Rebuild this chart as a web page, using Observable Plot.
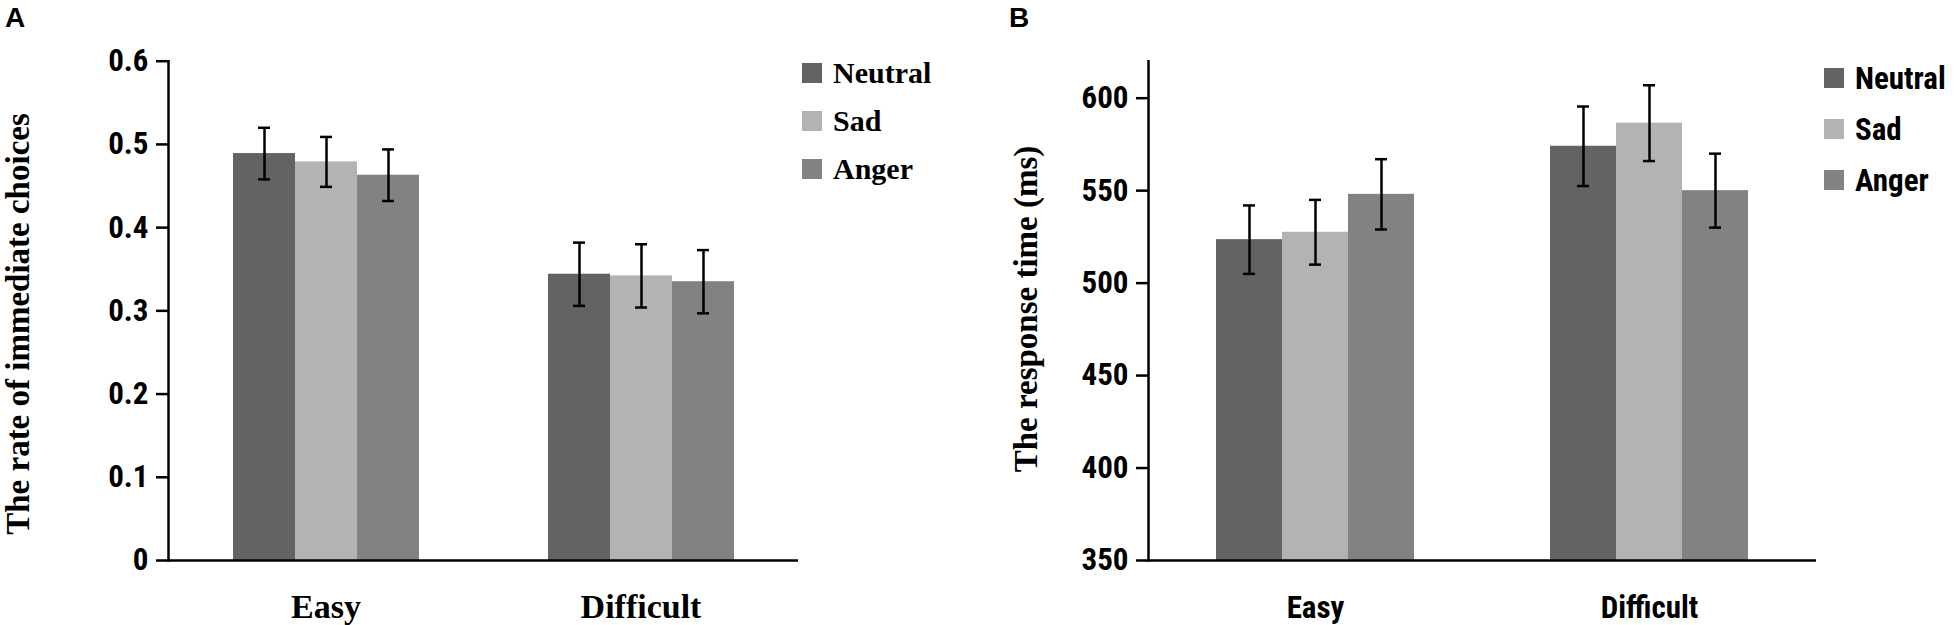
<!DOCTYPE html>
<html>
<head>
<meta charset="utf-8">
<script src="https://cdn.jsdelivr.net/npm/d3@7"></script>
<script src="https://cdn.jsdelivr.net/npm/@observablehq/plot@0.6"></script>
<style>
  html, body { margin: 0; padding: 0; background: #fff; }
  #root { position: relative; width: 1955px; height: 625px; overflow: hidden; background: #fff; }
  .abs { position: absolute; }
  .panel-label { font-family: "Liberation Sans", Arial, sans-serif; font-weight: bold; font-size: 28px; line-height: 1; }
  .ytitle { font-family: "Liberation Serif", "Times New Roman", serif; font-weight: bold; font-size: 33px; line-height: 1; white-space: nowrap; transform: translate(-50%, -50%) rotate(-90deg); }
  .legend-item { display: flex; align-items: center; line-height: 1; white-space: nowrap; }
  .legend-item .sw { width: 20px; height: 20px; margin-right: 11px; flex: none; }
  .serif { font-family: "Liberation Serif", "Times New Roman", serif; font-weight: bold; font-size: 30px; }
  .sans { font-family: "Liberation Sans Narrow", "Roboto Condensed", "DejaVu Sans Condensed", sans-serif; font-weight: bold; font-size: 31px; }
</style>
</head>
<body>
<div id="root"></div>
<script>
// ---------- data ----------
const difficulties = ["Easy", "Difficult"];
const emotions = ["Neutral", "Sad", "Anger"];
const emotionColors = ["#636363", "#b3b3b3", "#828282"];

// Panel A: rate of immediate choices
const rateEasy = [0.489, 0.479, 0.463];
const rateDifficult = [0.344, 0.342, 0.335];
const rateErrEasy = [0.031, 0.030, 0.031];
const rateErrDifficult = [0.038, 0.038, 0.038];
const rateTicks = [0, 0.1, 0.2, 0.3, 0.4, 0.5, 0.6];
const rateTickLabels = ["0", "0.1", "0.2", "0.3", "0.4", "0.5", "0.6"];
const rateDomain = [0, 0.6];

// Panel B: response time (ms)
const rtEasy = [523.5, 527.5, 548];
const rtDifficult = [574, 586.5, 550];
const rtErrEasy = [18.5, 17.5, 19];
const rtErrDifficult = [21.5, 20.5, 20];
const rtTicks = [350, 400, 450, 500, 550, 600];
const rtTickLabels = ["350", "400", "450", "500", "550", "600"];
const rtDomain = [350, 620];

function buildRows(meansByDiff, errsByDiff) {
  const rows = [];
  difficulties.forEach((dname, i) => {
    emotions.forEach((e, j) => {
      rows.push({difficulty: dname, emotion: e, mean: meansByDiff[i][j], err: errsByDiff[i][j]});
    });
  });
  return rows;
}
const rowsA = buildRows([rateEasy, rateDifficult], [rateErrEasy, rateErrDifficult]);
const rowsB = buildRows([rtEasy, rtDifficult], [rtErrEasy, rtErrDifficult]);

const SANS = '"Liberation Sans Narrow", "Roboto Condensed", "DejaVu Sans Condensed", sans-serif';
const SERIF = '"Liberation Serif", "Times New Roman", serif';

function panel({rows, domain, ticks, tickLabels, width, marginLeft, marginRight, paddingOuter, capInset, fxFont, fxSize, fxPadding}) {
  const lo = d => d.mean - d.err;
  const hi = d => d.mean + d.err;
  const base = domain[0];
  return Plot.plot({
    width, height: 625,
    marginLeft, marginRight, marginTop: 60.7, marginBottom: 65,
    style: {background: "transparent", color: "#000", fontFamily: SANS},
    fx: {domain: difficulties, padding: 0, label: null},
    x: {domain: emotions, paddingInner: 0, paddingOuter, axis: null},
    y: {domain, label: null, axis: null},
    color: {domain: emotions, range: emotionColors},
    marks: [
      Plot.barY(rows, {fx: "difficulty", x: "emotion", y1: base, y2: "mean", fill: "emotion"}),
      Plot.ruleX(rows, {fx: "difficulty", x: "emotion", y1: lo, y2: hi, stroke: "#000", strokeWidth: 2.5}),
      Plot.tickY(rows, {fx: "difficulty", x: "emotion", y: lo, insetLeft: capInset, insetRight: capInset, stroke: "#000", strokeWidth: 2.5}),
      Plot.tickY(rows, {fx: "difficulty", x: "emotion", y: hi, insetLeft: capInset, insetRight: capInset, stroke: "#000", strokeWidth: 2.5}),
      Plot.ruleY([base], {stroke: "#000", strokeWidth: 2.5}),
      Plot.frame({anchor: "left", facetAnchor: "left", stroke: "#000", strokeWidth: 2.5}),
      Plot.axisY({
        ticks, tickFormat: d => tickLabels[ticks.indexOf(d)],
        tickSize: 12, tickPadding: 8, strokeWidth: 2.5, stroke: "#000",
        fontSize: 31, fontWeight: "bold", fontFamily: SANS, fill: "#000", label: null
      }),
      Plot.axisFx({
        anchor: "bottom", tickSize: 0, tickPadding: fxPadding, label: null,
        fontSize: fxSize, fontWeight: "bold", fontFamily: fxFont, fill: "#000"
      })
    ]
  });
}

const root = document.getElementById("root");

const svgA = panel({rows: rowsA, domain: rateDomain, ticks: rateTicks, tickLabels: rateTickLabels,
  width: 800, marginLeft: 168, marginRight: 2, paddingOuter: 1.01, capInset: 25,
  fxFont: SERIF, fxSize: 34, fxPadding: 33});
svgA.classList.add("abs");
svgA.style.left = "0px"; svgA.style.top = "0px";
root.appendChild(svgA);

const svgB = panel({rows: rowsB, domain: rtDomain, ticks: rtTicks, tickLabels: rtTickLabels,
  width: 840, marginLeft: 168, marginRight: 4, paddingOuter: 1.02, capInset: 27,
  fxFont: SANS, fxSize: 31, fxPadding: 35});
svgB.classList.add("abs");
svgB.style.left = "980px"; svgB.style.top = "0px";
root.appendChild(svgB);

function addDiv(cls, text, css) {
  const d = document.createElement("div");
  d.className = "abs " + cls;
  d.textContent = text;
  Object.assign(d.style, css);
  root.appendChild(d);
  return d;
}
addDiv("panel-label", "A", {left: "5px", top: "4px"});
addDiv("panel-label", "B", {left: "1009px", top: "4px"});
addDiv("ytitle", "The rate of immediate choices", {left: "18px", top: "324px"});
addDiv("ytitle", "The response time (ms)", {left: "1026px", top: "309px"});

function legend(left, centers, fontCls) {
  emotions.forEach((e, i) => {
    const item = document.createElement("div");
    item.className = "abs legend-item " + fontCls;
    item.style.left = left + "px";
    item.style.top = (centers[i] - 20) + "px";
    item.style.height = "40px";
    const sw = document.createElement("span");
    sw.className = "sw";
    sw.style.background = emotionColors[i];
    const t = document.createElement("span");
    t.textContent = e;
    item.appendChild(sw); item.appendChild(t);
    root.appendChild(item);
  });
}
legend(802, [73, 121, 169], "serif");
legend(1824, [78, 129, 180], "sans");
</script>
</body>
</html>
